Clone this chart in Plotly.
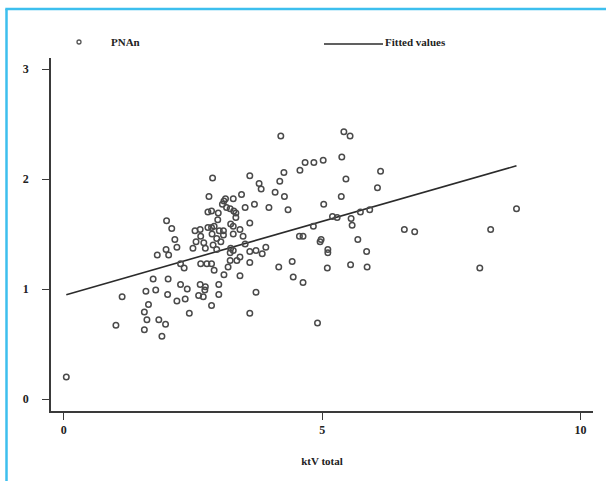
import plotly.graph_objects as go

# ---- data ----
ktv_total = [
    0.05, 1.01,
    2.88, 2.81, 3.13, 3.10, 3.28, 3.44, 3.51, 2.99, 2.86, 2.79, 3.07, 3.15, 3.22, 3.29, 3.33, 3.33,
    1.99, 2.09, 2.98, 3.23, 3.28, 2.79, 2.86, 2.91, 2.64, 2.54, 3.01, 3.09, 3.41, 3.28, 3.47, 3.09,
    2.65, 2.87, 2.96, 2.15, 2.19, 2.50, 2.56, 2.71, 2.74, 2.89, 2.96, 3.04, 3.23, 3.28, 3.22,
    1.98, 2.03, 1.81, 2.26, 2.33, 2.65, 2.77, 2.86, 2.91, 3.22, 3.35, 3.41, 3.18, 3.10, 3.41,
    1.73, 2.02, 1.13, 1.59, 1.78, 2.26, 2.39, 2.64, 2.74, 2.73, 3.00, 2.01, 2.19, 2.35, 2.61,
    2.70, 3.00, 2.86, 1.64, 1.56, 1.61, 1.84, 1.97, 1.56, 1.90, 2.43, 3.51,
    4.20, 5.42, 5.54, 4.67, 4.84, 5.02, 5.38, 4.57, 4.26, 6.13, 5.46, 4.18, 3.78, 3.82, 3.60,
    4.09, 4.27, 6.07, 5.37, 3.69, 3.97, 4.34, 5.03, 3.60, 4.83, 5.20, 5.29, 5.56, 5.58, 5.74,
    5.92, 6.59, 6.79, 4.56, 4.63, 4.96, 4.98, 5.11, 5.11, 5.69, 5.86, 3.60, 3.72, 3.84, 3.91,
    3.60, 4.42, 4.16, 5.10, 5.55, 5.87, 4.44, 4.63, 3.72, 3.60, 4.91,
    8.26, 8.76, 8.05,
]
pnan = [
    0.20, 0.67,
    2.01, 1.84, 1.82, 1.80, 1.82, 1.86, 1.74, 1.69, 1.71, 1.70, 1.77, 1.74, 1.73, 1.71, 1.69, 1.65,
    1.62, 1.55, 1.63, 1.59, 1.57, 1.56, 1.56, 1.57, 1.54, 1.53, 1.53, 1.53, 1.54, 1.50, 1.48, 1.49,
    1.48, 1.50, 1.46, 1.45, 1.38, 1.37, 1.43, 1.42, 1.37, 1.40, 1.36, 1.43, 1.37, 1.35, 1.33,
    1.36, 1.31, 1.31, 1.23, 1.19, 1.23, 1.23, 1.23, 1.17, 1.26, 1.26, 1.29, 1.20, 1.13, 1.12,
    1.09, 1.09, 0.93, 0.98, 0.99, 1.04, 1.00, 1.04, 1.02, 0.99, 1.04, 0.95, 0.89, 0.91, 0.94,
    0.93, 0.95, 0.85, 0.86, 0.79, 0.72, 0.72, 0.68, 0.63, 0.57, 0.78, 1.41,
    2.39, 2.43, 2.39, 2.15, 2.15, 2.17, 2.20, 2.08, 2.06, 2.07, 2.00, 1.98, 1.96, 1.91, 2.03,
    1.88, 1.84, 1.92, 1.84, 1.77, 1.74, 1.72, 1.77, 1.60, 1.57, 1.66, 1.65, 1.64, 1.58, 1.70,
    1.72, 1.54, 1.52, 1.48, 1.48, 1.43, 1.45, 1.36, 1.33, 1.45, 1.34, 1.34, 1.35, 1.32, 1.38,
    1.24, 1.25, 1.20, 1.19, 1.22, 1.20, 1.11, 1.06, 0.97, 0.78, 0.69,
    1.54, 1.73, 1.19,
]
fit_intercept = 0.942
fit_slope = 0.1345
x_ticks = [0, 5, 10]
y_ticks = [0, 1, 2, 3]
legend_labels = ["PNAn", "Fitted values"]
x_title = "ktV total"

fit_x = [min(ktv_total), max(ktv_total)]
fit_y = [fit_intercept + fit_slope * v for v in fit_x]

INK = "#3a3a3a"
SERIF = "Liberation Serif"

fig = go.Figure()
fig.add_trace(go.Scatter(
    x=fit_x, y=fit_y, mode="lines",
    line=dict(color="#2b2b2b", width=1.6), showlegend=False, hoverinfo="skip",
))
fig.add_trace(go.Scatter(
    x=ktv_total, y=pnan, mode="markers",
    marker=dict(symbol="circle-open", size=5.5, color="#4a4a4a", line=dict(width=1.5, color="#4a4a4a")),
    showlegend=False,
))

W, H = 606, 481
L, R, T, B = 51, 13, 58, 70
pw, ph = W - L - R, H - T - B

def px(x):
    return (x - L) / pw

def py(y):
    return (H - B - y) / ph

border = "#3dbfee"
shapes = [
    dict(type="line", xref="paper", yref="paper", x0=px(6.5), x1=px(6.5), y0=py(481), y1=py(9),
         line=dict(color=border, width=2.5)),
    dict(type="line", xref="paper", yref="paper", x0=px(5.3), x1=px(606), y0=py(9), y1=py(9),
         line=dict(color=border, width=2.5)),
    dict(type="circle", xref="paper", yref="paper", xsizemode="pixel", ysizemode="pixel",
         xanchor=px(79), yanchor=py(42), x0=-2, x1=2, y0=-2, y1=2,
         line=dict(color="#555555", width=1.3)),
    dict(type="line", xref="paper", yref="paper", x0=px(324), x1=px(383), y0=py(44), y1=py(44),
         line=dict(color="#2b2b2b", width=1.3)),
]
annotations = [
    dict(text=legend_labels[0], xref="paper", yref="paper", x=px(109), y=py(42),
         xanchor="left", yanchor="middle", showarrow=False,
         font=dict(family=SERIF, size=11, color="#222", weight="bold")),
    dict(text=legend_labels[1], xref="paper", yref="paper", x=px(383), y=py(42),
         xanchor="left", yanchor="middle", showarrow=False,
         font=dict(family=SERIF, size=11, color="#222", weight="bold")),
]

fig.update_layout(
    width=W, height=H,
    margin=dict(l=L, r=R, t=T, b=B, pad=0),
    paper_bgcolor="white", plot_bgcolor="white",
    shapes=shapes, annotations=annotations,
    showlegend=False,
    xaxis=dict(
        range=[-0.246, 10.24], tickvals=x_ticks, ticktext=[str(v) for v in x_ticks],
        showgrid=False, zeroline=False, showline=True, linecolor=INK, linewidth=1.6,
        ticks="outside", ticklen=7, tickwidth=1.4, tickcolor=INK,
        tickfont=dict(family=SERIF, size=12, color="#222", weight="bold"),
        title=dict(text=x_title, standoff=21,
                   font=dict(family=SERIF, size=11, color="#222", weight="bold")),
    ),
    yaxis=dict(
        range=[-0.109, 3.10], tickvals=y_ticks, ticktext=[str(v) for v in y_ticks],
        showgrid=False, zeroline=False, showline=True, linecolor=INK, linewidth=1.6,
        ticks="outside", ticklen=7, tickwidth=1.4, tickcolor=INK, ticklabelstandoff=11,
        tickfont=dict(family=SERIF, size=12, color="#222", weight="bold"),
    ),
)

fig.write_html(
    "out.html",
    config={"displayModeBar": False},
    post_script="document.body.style.margin='0px';document.body.style.overflow='hidden';",
)
